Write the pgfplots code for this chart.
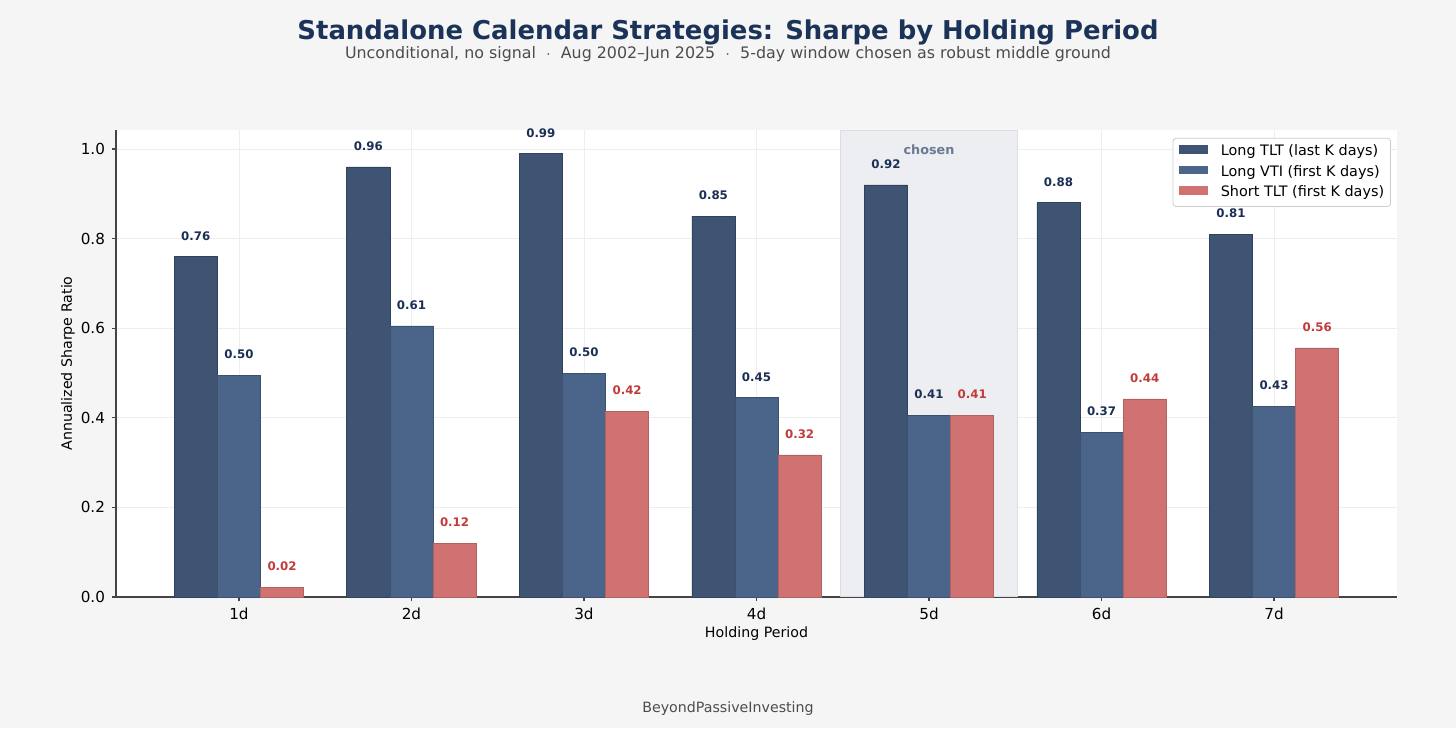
\documentclass[border=0pt]{standalone}
\usepackage{pgfplots}
\usepackage{pgfplotstable}
\pgfplotsset{compat=1.18}
\usepackage{fontspec}
\setmainfont{DejaVu Sans}

\definecolor{bg}{HTML}{F5F5F5}
\definecolor{tltc}{HTML}{3F5373}
\definecolor{vtic}{HTML}{4A6589}
\definecolor{shortc}{HTML}{D07272}
\definecolor{navy}{HTML}{1B2F55}
\definecolor{redlab}{HTML}{C23B3B}
\definecolor{shade}{HTML}{EDEEF2}
\definecolor{shadeedge}{HTML}{DCDEE4}
\definecolor{gridc}{HTML}{EEEEEE}
\definecolor{axisc}{HTML}{444444}
\definecolor{titlec}{HTML}{1B3358}
\definecolor{chosenc}{HTML}{6B7A93}

% x = holding period index (0 = 1d), y = annualized Sharpe
\pgfplotstableread{
x y label
0 0.76 0.76
1 0.96 0.96
2 0.99 0.99
3 0.85 0.85
4 0.92 0.92
5 0.88 0.88
6 0.81 0.81
}\longtlt
\pgfplotstableread{
x y label
0 0.495 0.50
1 0.605 0.61
2 0.50 0.50
3 0.445 0.45
4 0.406 0.41
5 0.368 0.37
6 0.426 0.43
}\longvti
\pgfplotstableread{
x y label
0 0.022 0.02
1 0.12 0.12
2 0.415 0.42
3 0.317 0.32
4 0.406 0.41
5 0.442 0.44
6 0.556 0.56
}\shorttlt

% one bar width (0.25 axis units) in pt: 640.5pt / 7.425 units * 0.25
\def\bshift{21.566pt}

\begin{document}
\begin{tikzpicture}[x=1pt,y=1pt]
\fill[bg] (0,0) rectangle (728,364);
\begin{axis}[
    at={(58pt,65.5pt)}, anchor=south west,
    width=640.5pt, height=233.5pt, scale only axis,
    xmin=-0.7125, xmax=6.7125, ymin=0, ymax=1.0425,
    axis background/.style={fill=white},
    axis x line*=bottom, axis y line*=left,
    axis line style={draw=axisc, line width=0.6pt, -},
    xtick={0,...,6},
    xticklabels={1d,2d,3d,4d,5d,6d,7d},
    ytick={0,0.2,0.4,0.6,0.8,1.0},
    yticklabel style={/pgf/number format/.cd, fixed, fixed zerofill, precision=1},
    /pgf/number format/assume math mode=true,
    ticklabel style={font=\fontsize{7.6}{9}\selectfont, text=black},
    tick style={draw=axisc, line width=0.6pt},
    tick align=outside, major tick length=2pt,
    grid=major, grid style={draw=gridc, line width=0.4pt},
    xlabel={Holding Period},
    ylabel={Annualized Sharpe Ratio},
    label style={font=\fontsize{7.1}{8.5}\selectfont, text=black},
    xlabel style={at={(axis description cs:0.5,-0.0857)}, anchor=base},
    ylabel style={at={(axis description cs:-0.0375,0.5)}, anchor=center, rotate=0},
    legend style={at={(rel axis cs:0.9953,0.983)}, anchor=north east,
        draw=gray!40, fill=white, rounded corners=1.5pt,
        font=\fontsize{7.2}{8.5}\selectfont,
        nodes={inner sep=0pt, text height=5.3pt, text depth=1.4pt},
        row sep=3.6pt,
        /tikz/every odd column/.style={column sep=6.2pt},
        inner xsep=3.2pt, inner ysep=3.4pt},
    legend cell align=left,
    legend image code/.code={\draw[#1, draw=none, sharp corners] (0pt,-0.9pt) rectangle (14.5pt,3.3pt);},
    bar width=0.25,
    nodes near coords,
    point meta=explicit symbolic,
    every node near coord/.append style={font=\bfseries\fontsize{5.9}{6}\selectfont,
        anchor=south, inner sep=0pt, yshift=8pt},
]
% shaded "chosen" window, kept just clear of the x axis line
\addplot[fill=shade, draw=shadeedge, line width=0.4pt,
    forget plot, nodes near coords=\empty]
    coordinates {(3.485,0.0016) (3.485,1.0425) (4.515,1.0425) (4.515,0.0016)} -- cycle;
\node[font=\bfseries\fontsize{6.4}{7}\selectfont, text=chosenc] at (axis cs:4,0.998) {chosen};
\addplot[ybar, bar shift=-0.25, fill=tltc, draw=tltc!80!black, line width=0.3pt,
    every node near coord/.append style={text=navy, xshift=-\bshift}]
    table[x=x, y=y, meta=label] {\longtlt};
\addlegendentry{Long TLT (last K days)}
\addplot[ybar, bar shift=0, fill=vtic, draw=vtic!80!black, line width=0.3pt,
    every node near coord/.append style={text=navy}]
    table[x=x, y=y, meta=label] {\longvti};
\addlegendentry{Long VTI (first K days)}
\addplot[ybar, bar shift=0.25, fill=shortc, draw=shortc!85!black, line width=0.3pt,
    every node near coord/.append style={text=redlab, xshift=\bshift}]
    table[x=x, y=y, meta=label] {\shorttlt};
\addlegendentry{Short TLT (first K days)}
\end{axis}
\node[anchor=base, font=\bfseries\fontsize{12.95}{15}\selectfont, text=titlec] at (364,344)
    {Standalone Calendar Strategies: Sharpe by Holding Period};
\node[anchor=base, font=\fontsize{7.93}{9}\selectfont, text=black!70] at (364,334.5)
    {Unconditional, no signal \ $\cdot$\ \ Aug 2002–Jun 2025 \ $\cdot$\ \ 5-day window chosen as robust middle ground};
\node[anchor=base, font=\fontsize{7.1}{8.5}\selectfont, text=black!70] at (364,8)
    {BeyondPassiveInvesting};
\end{tikzpicture}
\end{document}
